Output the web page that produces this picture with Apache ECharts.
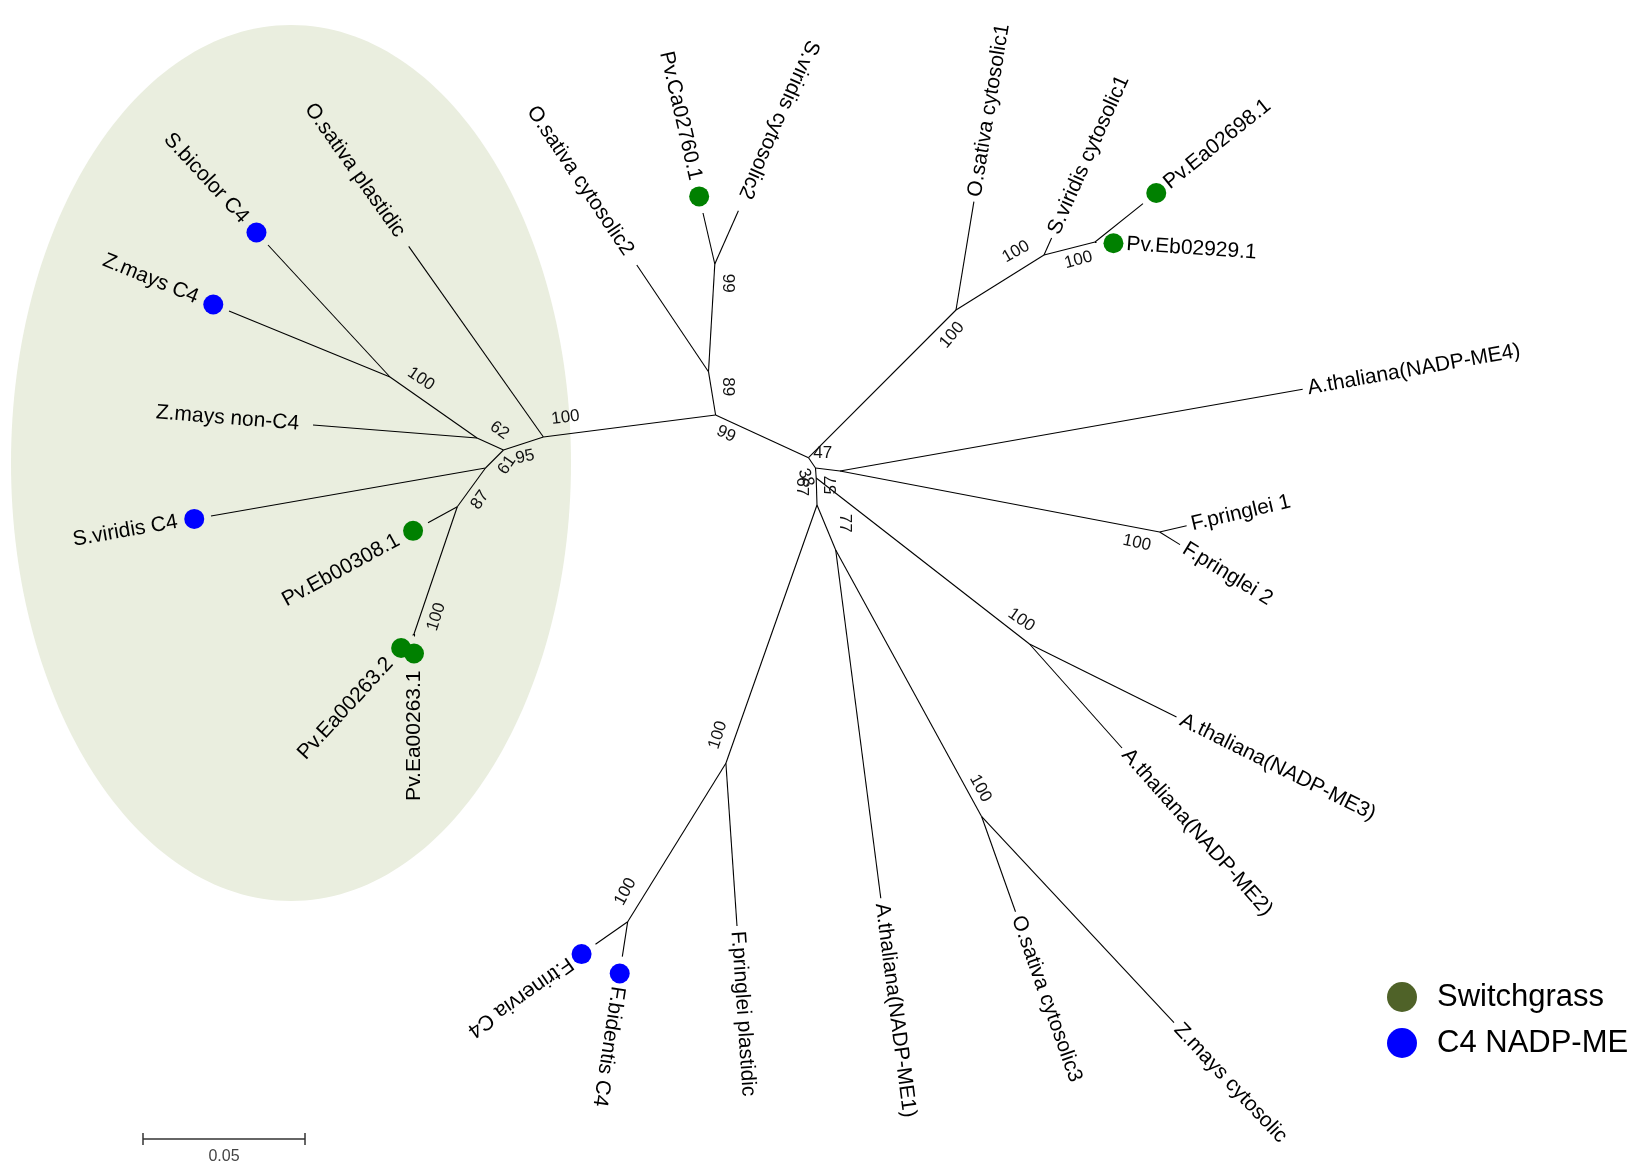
<!DOCTYPE html>
<html>
<head>
<meta charset="utf-8">
<title>NADP-ME phylogeny</title>
<script src="https://cdn.jsdelivr.net/npm/echarts@6/dist/echarts.min.js"></script>
<style>
  html, body { margin: 0; padding: 0; background: #ffffff; }
  #chart { width: 1650px; height: 1169px; }
</style>
</head>
<body>
<div id="chart"></div>
<script>
// ---------------------------------------------------------------
// Unrooted neighbour-joining tree of NADP-malic enzymes.
// Layout units: 1 unit on each axis = 1 px of the 1650 x 1169 canvas.
// ---------------------------------------------------------------

// Internal nodes of the tree layout
const nodeIds = ['nSbZm', 'nZmGroup', 'nB', 'nC', 'nPv', 'nEa', 'nA', 'nD', 'nE', 'nF',
  'nG', 'nH', 'nI', 'nJ', 'nK', 'nK2', 'nL', 'nFP', 'nM', 'nN', 'nP', 'nR', 'nO', 'nQ'];
const nodeCoords = [[390, 377], [477, 438], [503.5, 450], [485.5, 468], [457.3, 506.7], [414, 634],
  [543.4, 437], [715.6, 415], [708.5, 371.7], [714.8, 264], [808.5, 457.7], [956, 310],
  [1044, 255], [1095, 242], [815.5, 468], [816.2, 478], [840, 471], [1159.6, 532],
  [817, 505], [1029.5, 644], [835.7, 550], [981.7, 816.7], [725.9, 763.3], [627.7, 921.7]];

// Branches between internal nodes
const internalEdges = [['nSbZm', 'nZmGroup'], ['nZmGroup', 'nB'], ['nB', 'nC'], ['nC', 'nPv'],
  ['nPv', 'nEa'], ['nB', 'nA'], ['nA', 'nD'], ['nD', 'nE'], ['nE', 'nF'], ['nD', 'nG'],
  ['nG', 'nH'], ['nH', 'nI'], ['nI', 'nJ'], ['nG', 'nK'], ['nK', 'nL'], ['nL', 'nFP'],
  ['nK', 'nK2'], ['nK2', 'nN'], ['nK2', 'nM'], ['nM', 'nP'], ['nP', 'nR'], ['nM', 'nO'], ['nO', 'nQ']];

// Leaves (taxa)
const leafNames = ['S.bicolor C4', 'Z.mays C4', 'Z.mays non-C4', 'S.viridis C4', 'Pv.Eb00308.1',
  'Pv.Ea00263.2', 'Pv.Ea00263.1', 'O.sativa plastidic', 'O.sativa cytosolic2', 'Pv.Ca02760.1',
  'S.viridis cytosolic2', 'O.sativa cytosolic1', 'S.viridis cytosolic1', 'Pv.Eb02929.1',
  'Pv.Ea02698.1', 'A.thaliana(NADP-ME4)', 'F.pringlei 1', 'F.pringlei 2', 'A.thaliana(NADP-ME3)',
  'A.thaliana(NADP-ME2)', 'Z.mays cytosolic', 'O.sativa cytosolic3', 'A.thaliana(NADP-ME1)',
  'F.pringlei plastidic', 'F.bidentis C4', 'F.trinervia C4'];
const leafParents = ['nSbZm', 'nSbZm', 'nZmGroup', 'nC', 'nPv', 'nEa', 'nEa', 'nA', 'nE', 'nF',
  'nF', 'nH', 'nI', 'nJ', 'nJ', 'nL', 'nFP', 'nFP', 'nN', 'nN', 'nR', 'nR', 'nP', 'nO', 'nQ', 'nQ'];
const leafTips = [[268, 245], [229, 311], [313, 425], [211, 516], [428, 522.7], [412.65, 635.47],
  [414, 636.5], [408.7, 246.4], [636.8, 265], [703, 213], [738.4, 210.7], [973.9, 201.7],
  [1051.6, 238], [1096.5, 242.1], [1143, 203.6], [1302.7, 389.3], [1186.6, 525.7], [1180, 544.6],
  [1176.5, 717], [1122, 748], [1174, 1022.6], [1015.5, 911.7], [880.8, 898.3], [737, 926],
  [622.3, 956.7], [595.5, 944.3]];
const leafGroups = ['C4 NADP-ME', 'C4 NADP-ME', '', 'C4 NADP-ME', 'Switchgrass', 'Switchgrass',
  'Switchgrass', '', '', 'Switchgrass', '', '', '', 'Switchgrass', 'Switchgrass', '', '', '', '',
  '', '', '', '', '', 'C4 NADP-ME', 'C4 NADP-ME'];

// Bootstrap support values (drawn in this order)
const bootstrapValues = ['100', '62', '100', '61', '95', '87', '100', '89', '99', '99', '47',
  '100', '100', '100', '100', '38', '67', '57', '77', '100', '100', '100', '100'];

// Scale bar
const scaleBarValue = 0.05;          // substitutions per site
const unitsPerSubstitution = 3240;   // layout units per substitution per site

// ---------------------------------------------------------------
// Styling
// ---------------------------------------------------------------
const FONT = '"Liberation Sans", Arial, Helvetica, sans-serif';
const groupColors = { 'Switchgrass': '#008000', 'C4 NADP-ME': '#0000ff' };
const legendColors = { 'Switchgrass': '#4f6228', 'C4 NADP-ME': '#0000ff' };
// labels written against the default reading direction
const flippedLabels = new Set(['S.viridis cytosolic2', 'Pv.Ea00263.1', 'F.bidentis C4', 'F.trinervia C4']);
// bootstrap label placement: [x, y, clockwise rotation in degrees]
const bootstrapPlacement = [[421, 379, 34], [499.4, 430.4, 35], [565.5, 417.5, -7], [507, 465, -55],
  [525, 457, -12], [480, 500, -55], [436.3, 616.7, -72], [728, 386.7, 90], [727.2, 283.3, 90],
  [726, 434, 25], [822.7, 453.3, 0], [952, 335, -50], [1016, 251.7, -30], [1078.4, 260, -15],
  [1136.8, 542.9, 12], [806, 478, 70], [801.7, 486.7, 90], [831, 485, -90], [844.6, 523.3, 90],
  [1021.4, 620, 35], [717.9, 735, -72], [625.4, 891.7, -62], [980.4, 788.3, 62]];
// shaded clade highlight: centre x, centre y, radius x, radius y
const cladeHighlight = [[291, 463, 280, 438]];
const scaleBarOrigin = [[143, 1139]];
const dotOffset = 17;   // px between branch tip and its marker

// ---------------------------------------------------------------
const nodeMap = {};
nodeIds.forEach((id, i) => { nodeMap[id] = nodeCoords[i]; });

function unitDir(a, b) {
  const dx = b[0] - a[0], dy = b[1] - a[1];
  const L = Math.hypot(dx, dy) || 1;
  return [dx / L, dy / L];
}

const branchData = internalEdges.map(([a, b]) => ({ coords: [nodeMap[a], nodeMap[b]] }))
  .concat(leafNames.map((n, i) => ({ coords: [nodeMap[leafParents[i]], leafTips[i]] })));

function markerData(group) {
  const out = [];
  leafNames.forEach((n, i) => {
    if (leafGroups[i] !== group) return;
    const u = unitDir(nodeMap[leafParents[i]], leafTips[i]);
    out.push({ name: n, value: [leafTips[i][0] + u[0] * dotOffset, leafTips[i][1] + u[1] * dotOffset] });
  });
  return out;
}

const chart = echarts.init(document.getElementById('chart'), null, { renderer: 'canvas' });

chart.setOption({
  animation: false,
  backgroundColor: '#ffffff',
  grid: { left: 0, right: 0, top: 0, bottom: 0 },
  xAxis: { type: 'value', min: 0, max: 1650, show: false },
  yAxis: { type: 'value', min: 0, max: 1169, inverse: true, show: false },
  legend: {
    orient: 'vertical',
    left: 1387,
    top: 981,
    padding: 0,
    itemWidth: 60,
    itemHeight: 30,
    itemGap: 14,
    icon: 'circle',
    selectedMode: false,
    textStyle: { fontSize: 31, fontFamily: FONT, color: '#000', lineHeight: 32 },
    data: [
      { name: 'Switchgrass', itemStyle: { color: legendColors['Switchgrass'], opacity: 1 } },
      { name: 'C4 NADP-ME', itemStyle: { color: legendColors['C4 NADP-ME'], opacity: 1 } }
    ]
  },
  series: [
    {
      // shaded clade of C4 / switchgrass plastidic isoforms
      type: 'custom',
      coordinateSystem: 'cartesian2d',
      silent: true,
      z: 0,
      data: cladeHighlight,
      renderItem: function (params, api) {
        const c = api.coord([api.value(0), api.value(1)]);
        const s = api.size([api.value(2), api.value(3)]);
        return {
          type: 'ellipse',
          shape: { cx: c[0], cy: c[1], rx: s[0], ry: s[1] },
          style: { fill: '#eaeedf' }
        };
      }
    },
    {
      // branches
      type: 'lines',
      coordinateSystem: 'cartesian2d',
      polyline: false,
      silent: true,
      z: 2,
      lineStyle: { color: '#000', width: 1.1, opacity: 1 },
      data: branchData
    },
    {
      name: 'Switchgrass',
      type: 'scatter',
      symbol: 'circle',
      symbolSize: 20,
      z: 3,
      silent: true,
      itemStyle: { color: groupColors['Switchgrass'], opacity: 1 },
      data: markerData('Switchgrass')
    },
    {
      name: 'C4 NADP-ME',
      type: 'scatter',
      symbol: 'circle',
      symbolSize: 20,
      z: 3,
      silent: true,
      itemStyle: { color: groupColors['C4 NADP-ME'], opacity: 1 },
      data: markerData('C4 NADP-ME')
    },
    {
      // taxon labels, laid along their branch direction
      type: 'custom',
      coordinateSystem: 'cartesian2d',
      silent: true,
      z: 4,
      data: leafTips.map((t, i) => [t[0], t[1], i]),
      renderItem: function (params, api) {
        const i = api.value(2);
        const tipPx = api.coord([api.value(0), api.value(1)]);
        const parPx = api.coord(nodeMap[leafParents[i]]);
        const u = unitDir(parPx, tipPx);
        const dotted = !!leafGroups[i];
        let forward = u[0] >= -1e-9;
        if (flippedLabels.has(leafNames[i])) forward = !forward;
        const gap = dotted ? (forward ? 30 : 34) : (forward ? 5 : 14);
        let ang = Math.atan2(u[1], u[0]) * 180 / Math.PI;
        if (!forward) ang += 180;
        return {
          type: 'text',
          x: tipPx[0] + u[0] * gap,
          y: tipPx[1] + u[1] * gap,
          rotation: -ang * Math.PI / 180,
          style: {
            text: leafNames[i],
            align: forward ? 'left' : 'right',
            verticalAlign: 'middle',
            fontSize: 21,
            fontFamily: FONT,
            fill: '#000'
          }
        };
      }
    },
    {
      // bootstrap support
      type: 'custom',
      coordinateSystem: 'cartesian2d',
      silent: true,
      z: 5,
      data: bootstrapPlacement.map((p, i) => [p[0], p[1], i]),
      renderItem: function (params, api) {
        const i = api.value(2);
        const p = api.coord([api.value(0), api.value(1)]);
        return {
          type: 'text',
          x: p[0],
          y: p[1],
          rotation: -bootstrapPlacement[i][2] * Math.PI / 180,
          style: {
            text: bootstrapValues[i],
            align: 'center',
            verticalAlign: 'middle',
            fontSize: 17,
            fontFamily: FONT,
            fill: '#111'
          }
        };
      }
    },
    {
      // scale bar
      type: 'custom',
      coordinateSystem: 'cartesian2d',
      silent: true,
      z: 4,
      data: scaleBarOrigin,
      renderItem: function (params, api) {
        const x0 = api.value(0), y0 = api.value(1);
        const a = api.coord([x0, y0]);
        const b = api.coord([x0 + scaleBarValue * unitsPerSubstitution, y0]);
        const st = { stroke: '#333', lineWidth: 1.5 };
        return {
          type: 'group',
          children: [
            { type: 'line', shape: { x1: a[0], y1: a[1], x2: b[0], y2: b[1] }, style: st },
            { type: 'line', shape: { x1: a[0], y1: a[1] - 6, x2: a[0], y2: a[1] + 6 }, style: st },
            { type: 'line', shape: { x1: b[0], y1: b[1] - 6, x2: b[0], y2: b[1] + 6 }, style: st },
            {
              type: 'text',
              x: (a[0] + b[0]) / 2,
              y: a[1] + 18,
              style: {
                text: String(scaleBarValue),
                align: 'center',
                verticalAlign: 'middle',
                fontSize: 16,
                fontFamily: FONT,
                fill: '#444'
              }
            }
          ]
        };
      }
    }
  ]
});
</script>
</body>
</html>
